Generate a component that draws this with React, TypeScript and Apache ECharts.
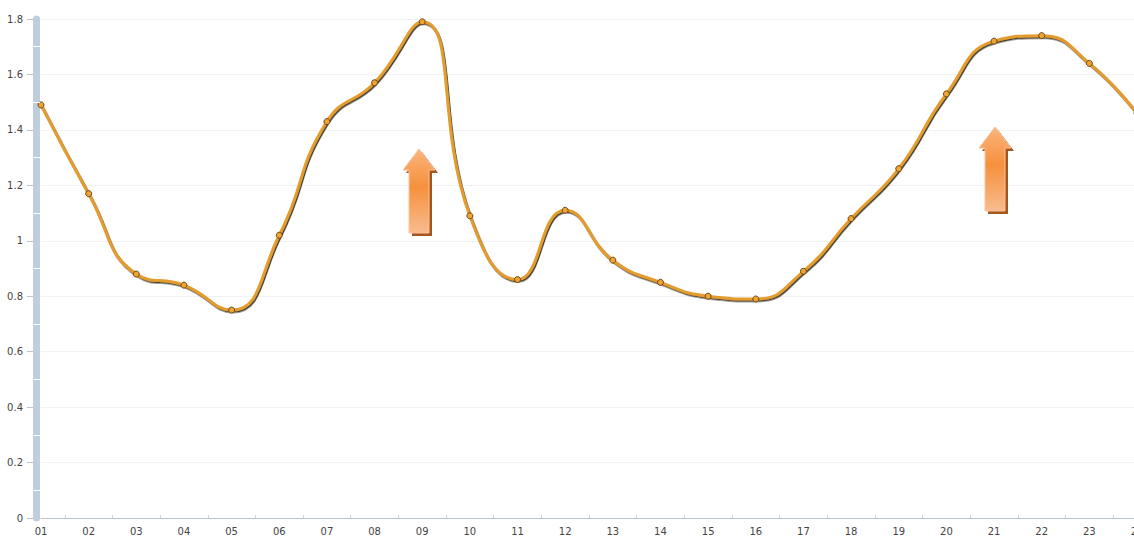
import React, { useEffect, useRef } from "react";
import * as echarts from "echarts";

const categories = ["01","02","03","04","05","06","07","08","09","10","11","12","13","14","15","16","17","18","19","20","21","22","23","24"];
const values = [1.49,1.17,0.88,0.84,0.75,1.02,1.43,1.57,1.79,1.09,0.86,1.11,0.93,0.85,0.80,0.79,0.89,1.08,1.26,1.53,1.72,1.74,1.64,1.46];
const yTicks = { min: 0, max: 1.8, interval: 0.2 };
const arrowPositions = [
  { x: 403, y: 149 },
  { x: 979, y: 127 },
];

const ARROW_D = "M16 0 L32 21 L26 21 L26 84 L6 84 L6 21 L0 21 Z";
let registered = false;
function ensureShape() {
  if (registered) return;
  echarts.graphic.registerShape("upArrow", echarts.graphic.extendPath(ARROW_D, {}) as any);
  registered = true;
}

export default function App() {
  const ref = useRef<HTMLDivElement>(null);
  useEffect(() => {
    if (!ref.current) return;
    ensureShape();
    const chart = echarts.init(ref.current, undefined, { renderer: "svg" });
    const font = "DejaVu Sans";
    const yBase = {
      type: "value" as const,
      position: "left" as const,
      min: yTicks.min,
      max: yTicks.max,
      interval: yTicks.interval,
    };
    const arrowGraphics: any[] = [];
    arrowPositions.forEach((p) => {
      arrowGraphics.push({
        type: "upArrow",
        x: p.x + 3,
        y: p.y + 3,
        z: 100,
        style: { fill: "#a4561c" },
      });
      arrowGraphics.push({
        type: "upArrow",
        x: p.x,
        y: p.y,
        z: 101,
        style: {
          fill: new echarts.graphic.LinearGradient(0, 0, 0, 1, [
            { offset: 0, color: "#fbb47c" },
            { offset: 0.45, color: "#f5913d" },
            { offset: 1, color: "#f9bb8e" },
          ]),
          stroke: "#fcc49a",
          lineWidth: 1,
        },
      });
    });
    chart.setOption({
      animation: false,
      backgroundColor: "#ffffff",
      grid: { left: 41, top: 19, right: 13, bottom: 18, containLabel: false },
      xAxis: [
        {
          type: "category",
          data: categories,
          boundaryGap: false,
          axisLine: { onZero: false, lineStyle: { color: "#b8c3cf", width: 1 } },
          axisTick: { show: false },
          axisLabel: { color: "#444", fontFamily: font, fontSize: 10, margin: 8 },
          splitLine: { show: false },
        },
        {
          type: "value",
          min: 0,
          max: 23,
          interval: 1,
          position: "bottom",
          axisLine: { show: false, onZero: false },
          axisTick: { show: false, inside: true },
          minorTick: { show: true, splitNumber: 2, length: 3, lineStyle: { color: "#cfd6de" } },
          axisLabel: { show: false },
          splitLine: { show: false },
        },
      ],
      yAxis: [
        {
          ...yBase,
          offset: 4.5,
          axisLine: { show: true, onZero: false, lineStyle: { color: "#bfcddd", width: 7 } },
          axisTick: { show: false },
          axisLabel: { show: false },
          splitLine: { show: true, lineStyle: { color: "#f0f2f4", width: 1 } },
        },
        {
          ...yBase,
          offset: 8,
          axisLine: { show: false, onZero: false },
          axisTick: { show: true, length: 6, lineStyle: { color: "#b8c3cf" } },
          axisLabel: { color: "#444", fontFamily: font, fontSize: 10, margin: 10 },
          splitLine: { show: false },
        },
        {
          ...yBase,
          offset: 8,
          z: 5,
          axisLine: { show: false, onZero: false },
          axisTick: { show: false, inside: true },
          minorTick: { show: true, splitNumber: 2, length: 7, lineStyle: { color: "#ffffff", width: 1 } },
          axisLabel: { show: false },
          splitLine: { show: false },
        },
      ],
      series: [
        {
          type: "line",
          data: values,
          xAxisIndex: 0,
          yAxisIndex: 0,
          smooth: 0.5,
          symbol: "circle",
          symbolSize: 6,
          showSymbol: true,
          lineStyle: {
            color: "#e59c2d",
            width: 3,
            shadowColor: "rgba(40,30,10,0.85)",
            shadowBlur: 1,
            shadowOffsetX: 1,
            shadowOffsetY: 1.5,
          },
          itemStyle: { color: "#f0a332", borderColor: "#6a4816", borderWidth: 1 },
          z: 3,
        },
      ],
      graphic: arrowGraphics,
    });
    return () => chart.dispose();
  }, []);
  return (
    <div style={{ position: "absolute", left: 0, top: 0, width: 1134, height: 536, overflow: "hidden" }}>
      <div ref={ref} style={{ width: 1150, height: 536 }} />
    </div>
  );
}
